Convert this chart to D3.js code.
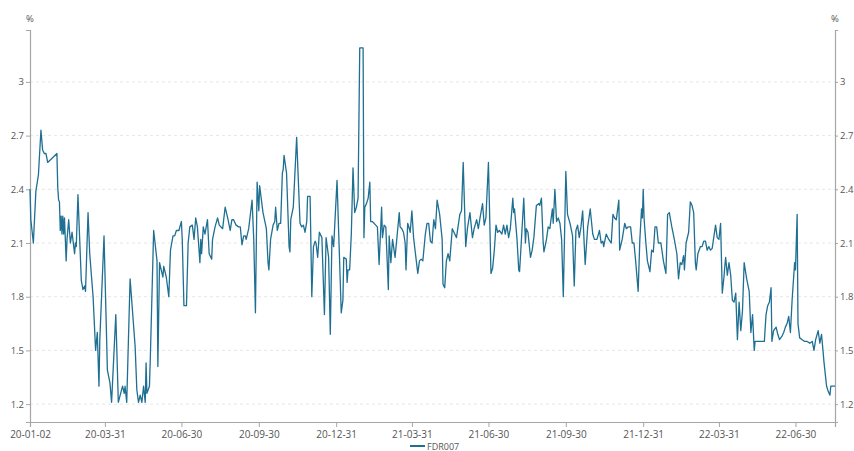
<!DOCTYPE html>
<html>
<head>
<meta charset="utf-8">
<script src="https://cdn.jsdelivr.net/npm/d3@7"></script>
<style>
html,body{margin:0;padding:0;background:#fff;}
svg{display:block;font-family:"Open Sans","Noto Sans",sans-serif;}
</style>
</head>
<body>
<svg id="chart" width="854" height="451"></svg>
<script>
const seriesName = "FDR007";
const unitLabel = "%";
const yTicks = [1.2, 1.5, 1.8, 2.1, 2.4, 2.7, 3];
const xTickDates = ["2020-01-02","2020-03-31","2020-06-30","2020-09-30","2020-12-31","2021-03-31","2021-06-30","2021-09-30","2021-12-31","2022-03-31","2022-06-30"];
const dates = [
"2020-01-02","2020-01-03","2020-01-06","2020-01-09","2020-01-12","2020-01-15","2020-01-17","2020-01-19","2020-01-21","2020-01-23",
"2020-02-03","2020-02-04","2020-02-05","2020-02-06","2020-02-07","2020-02-08","2020-02-09","2020-02-10","2020-02-11","2020-02-12",
"2020-02-14","2020-02-15","2020-02-17","2020-02-19","2020-02-21","2020-02-24","2020-02-25","2020-02-26","2020-02-28","2020-03-03",
"2020-03-05","2020-03-07","2020-03-08","2020-03-11","2020-03-13","2020-03-17","2020-03-20","2020-03-22","2020-03-24","2020-03-25",
"2020-03-30","2020-04-03","2020-04-06","2020-04-08","2020-04-13","2020-04-16","2020-04-21","2020-04-23","2020-04-24","2020-04-26",
"2020-04-30","2020-05-06","2020-05-08","2020-05-10","2020-05-12","2020-05-14","2020-05-16","2020-05-18","2020-05-19","2020-05-20",
"2020-05-23","2020-05-24","2020-05-28","2020-06-01","2020-06-02","2020-06-04","2020-06-05","2020-06-08","2020-06-09","2020-06-12",
"2020-06-15","2020-06-17","2020-06-20","2020-06-22","2020-06-24","2020-06-27","2020-06-30","2020-07-01","2020-07-03","2020-07-06",
"2020-07-08","2020-07-10","2020-07-13","2020-07-15","2020-07-17","2020-07-19","2020-07-22","2020-07-23","2020-07-24","2020-07-26",
"2020-07-28","2020-07-31","2020-08-02","2020-08-05","2020-08-06","2020-08-09","2020-08-12","2020-08-14","2020-08-18","2020-08-21",
"2020-08-24","2020-08-27","2020-08-29","2020-08-31","2020-09-03","2020-09-06","2020-09-08","2020-09-10","2020-09-12","2020-09-14",
"2020-09-15","2020-09-18","2020-09-22","2020-09-24","2020-09-26","2020-09-28","2020-09-30","2020-10-01","2020-10-05","2020-10-09",
"2020-10-11","2020-10-12","2020-10-14","2020-10-17","2020-10-19","2020-10-20","2020-10-22","2020-10-24","2020-10-26","2020-10-28",
"2020-10-29","2020-10-30","2020-11-02","2020-11-05","2020-11-06","2020-11-07","2020-11-10","2020-11-14","2020-11-18","2020-11-20",
"2020-11-22","2020-11-24","2020-11-26","2020-11-27","2020-11-30","2020-12-02","2020-12-04","2020-12-06","2020-12-07","2020-12-09",
"2020-12-11","2020-12-14","2020-12-17","2020-12-19","2020-12-22","2020-12-24","2020-12-26","2020-12-28","2021-01-01","2021-01-05",
"2021-01-06","2021-01-08","2021-01-09","2021-01-12","2021-01-13","2021-01-14","2021-01-16","2021-01-18","2021-01-20","2021-01-22",
"2021-01-24","2021-01-26","2021-01-28","2021-02-01","2021-02-02","2021-02-03","2021-02-05","2021-02-07","2021-02-09","2021-02-10",
"2021-02-12","2021-02-16","2021-02-18","2021-02-20","2021-02-22","2021-02-23","2021-02-24","2021-02-26","2021-02-28","2021-03-03",
"2021-03-04","2021-03-06","2021-03-08","2021-03-11","2021-03-14","2021-03-16","2021-03-17","2021-03-19","2021-03-21","2021-03-23",
"2021-03-24","2021-03-26","2021-03-28","2021-03-29","2021-03-31","2021-04-02","2021-04-04","2021-04-07","2021-04-09","2021-04-11",
"2021-04-13","2021-04-16","2021-04-18","2021-04-20","2021-04-22","2021-04-24","2021-04-26","2021-04-28","2021-04-30","2021-05-03",
"2021-05-06","2021-05-07","2021-05-09","2021-05-11","2021-05-13","2021-05-15","2021-05-18","2021-05-20","2021-05-23","2021-05-27",
"2021-05-29","2021-05-31","2021-06-03","2021-06-05","2021-06-08","2021-06-11","2021-06-13","2021-06-16","2021-06-18","2021-06-20",
"2021-06-23","2021-06-25","2021-06-27","2021-06-30","2021-07-03","2021-07-05","2021-07-07","2021-07-09","2021-07-11","2021-07-13",
"2021-07-16","2021-07-18","2021-07-20","2021-07-22","2021-07-24","2021-07-26","2021-07-29","2021-07-30","2021-07-31","2021-08-03",
"2021-08-05","2021-08-06","2021-08-08","2021-08-11","2021-08-13","2021-08-14","2021-08-16","2021-08-19","2021-08-21","2021-08-23",
"2021-08-26","2021-08-29","2021-08-30","2021-09-01","2021-09-03","2021-09-04","2021-09-07","2021-09-09","2021-09-11","2021-09-14",
"2021-09-15","2021-09-17","2021-09-19","2021-09-21","2021-09-23","2021-09-25","2021-09-27","2021-09-30","2021-10-02","2021-10-05",
"2021-10-08","2021-10-10","2021-10-12","2021-10-14","2021-10-16","2021-10-18","2021-10-20","2021-10-22","2021-10-23","2021-10-26",
"2021-10-29","2021-11-01","2021-11-03","2021-11-06","2021-11-09","2021-11-11","2021-11-13","2021-11-14","2021-11-17","2021-11-20",
"2021-11-23","2021-11-25","2021-11-27","2021-11-29","2021-12-02","2021-12-03","2021-12-06","2021-12-09","2021-12-11","2021-12-13",
"2021-12-16","2021-12-18","2021-12-20","2021-12-22","2021-12-25","2021-12-27","2021-12-29","2021-12-30","2021-12-31","2022-01-01",
"2022-01-03","2022-01-05","2022-01-08","2022-01-10","2022-01-12","2022-01-14","2022-01-16","2022-01-18","2022-01-21","2022-01-24",
"2022-01-27","2022-01-29","2022-01-31","2022-02-03","2022-02-06","2022-02-09","2022-02-11","2022-02-13","2022-02-15","2022-02-17",
"2022-02-18","2022-02-20","2022-02-23","2022-02-25","2022-02-27","2022-03-01","2022-03-03","2022-03-04","2022-03-06","2022-03-09",
"2022-03-11","2022-03-13","2022-03-15","2022-03-17","2022-03-19","2022-03-21","2022-03-23","2022-03-27","2022-03-29","2022-03-31",
"2022-04-02","2022-04-04","2022-04-06","2022-04-07","2022-04-08","2022-04-10","2022-04-12","2022-04-14","2022-04-16","2022-04-18",
"2022-04-20","2022-04-22","2022-04-24","2022-04-26","2022-04-28","2022-04-30","2022-05-03","2022-05-06","2022-05-08","2022-05-10",
"2022-05-12","2022-05-13","2022-05-18","2022-05-24","2022-05-26","2022-05-28","2022-05-30","2022-06-01","2022-06-02","2022-06-04",
"2022-06-07","2022-06-09","2022-06-11","2022-06-14","2022-06-16","2022-06-18","2022-06-20","2022-06-22","2022-06-24","2022-06-26",
"2022-06-29","2022-06-30","2022-07-02","2022-07-03","2022-07-05","2022-07-08","2022-07-11","2022-07-14","2022-07-17","2022-07-20",
"2022-07-22","2022-07-24","2022-07-27","2022-07-29","2022-07-31","2022-08-03","2022-08-06","2022-08-08","2022-08-10","2022-08-11",
"2022-08-16"
];
const values = [
2.40,2.23,2.10,2.39,2.48,2.73,2.62,2.60,2.60,2.55,
2.60,2.41,2.34,2.33,2.17,2.25,2.15,2.25,2.15,2.24,
2.00,2.12,2.23,2.10,2.16,2.04,2.10,2.08,2.37,1.89,
1.84,1.86,1.83,2.27,2.04,1.80,1.50,1.60,1.30,1.56,
2.14,1.39,1.32,1.21,1.70,1.21,1.30,1.26,1.30,1.21,
1.90,1.52,1.28,1.21,1.25,1.21,1.30,1.21,1.43,1.26,
1.30,1.45,2.17,2.00,1.41,1.99,1.97,1.91,1.97,1.91,
1.80,2.06,2.14,2.14,2.17,2.17,2.22,2.12,1.75,1.75,
2.10,2.19,2.20,2.12,2.24,2.19,1.99,2.12,2.04,2.19,
2.15,2.23,2.04,2.01,2.12,2.19,2.24,2.20,2.18,2.30,
2.24,2.17,2.23,2.23,2.20,2.19,2.19,2.09,2.14,2.14,
2.12,2.18,2.34,2.12,1.71,2.44,2.28,2.42,2.27,2.18,
1.99,1.95,2.12,2.20,2.22,2.30,2.17,2.21,2.21,2.49,
2.51,2.59,2.49,2.08,2.05,2.23,2.30,2.69,2.21,2.19,
2.20,2.16,2.22,2.36,2.36,1.80,2.08,2.11,2.10,2.02,
2.16,2.13,1.70,2.13,2.02,1.59,2.14,2.08,2.45,1.86,
1.71,1.78,2.02,2.01,1.88,1.95,1.95,2.15,2.52,2.27,
2.30,2.35,3.19,3.19,2.13,2.30,2.32,2.35,2.44,2.22,
2.22,2.20,2.19,1.98,2.19,2.30,2.13,2.20,2.19,1.84,
2.14,1.99,2.12,2.02,2.17,2.27,2.19,2.18,2.16,2.10,
1.95,2.21,2.18,2.16,2.28,2.13,2.05,1.93,2.00,2.01,
2.00,2.15,2.21,2.21,2.11,2.10,2.23,2.18,2.34,2.26,
2.12,1.87,1.85,2.00,2.04,2.00,2.18,2.16,2.13,2.26,
2.28,2.55,2.08,2.18,2.27,2.13,2.18,2.23,2.18,2.24,
2.32,2.20,2.24,2.55,1.93,1.96,2.06,2.20,2.16,2.17,
2.15,2.20,2.15,2.20,2.13,2.18,2.35,2.27,2.29,2.12,
1.95,1.94,2.10,2.35,2.10,2.18,2.16,2.02,2.06,2.13,
2.31,2.32,2.31,2.35,2.11,2.05,2.12,2.19,2.18,2.29,
2.21,2.40,2.22,2.24,2.21,2.12,1.80,2.50,2.26,2.21,
2.14,1.86,2.17,2.20,2.13,2.19,2.28,2.08,1.98,2.19,
2.29,2.15,2.12,2.12,2.17,2.10,2.11,2.08,2.15,2.12,
2.10,2.26,2.24,2.23,2.34,2.06,2.12,2.21,2.18,2.19,
2.19,2.10,2.10,2.00,1.83,2.12,2.29,2.24,2.40,2.24,
2.11,2.00,1.94,2.06,2.05,2.19,2.19,2.10,2.10,2.00,
1.93,2.26,2.27,2.19,2.12,2.04,1.90,1.99,1.98,2.03,
1.95,2.10,2.16,2.33,2.31,2.27,1.99,1.95,2.04,2.08,
2.08,2.11,2.11,2.06,2.08,2.06,2.07,2.20,2.13,2.12,
2.21,1.82,1.91,1.97,2.02,1.92,1.99,1.92,1.78,1.77,
1.82,1.56,1.77,1.61,1.72,1.99,1.90,1.83,1.60,1.70,
1.50,1.55,1.55,1.55,1.70,1.75,1.77,1.85,1.55,1.61,
1.63,1.59,1.56,1.58,1.60,1.63,1.65,1.69,1.60,1.78,
1.99,1.95,2.26,1.65,1.57,1.56,1.55,1.55,1.54,1.55,
1.50,1.56,1.61,1.54,1.59,1.43,1.30,1.27,1.25,1.30,
1.30
];

const parse = d3.timeParse("%Y-%m-%d");
const data = dates.map((d, i) => ({date: parse(d), value: values[i]}));

const svg = d3.select("#chart");
const mLeft = 30, mRight = 835, mTop = 30, mBottom = 422;

const x = d3.scaleTime()
  .domain(d3.extent(data, d => d.date))
  .range([mLeft, mRight]);
const y = d3.scaleLinear()
  .domain([1.1, 3.29])
  .range([mBottom, mTop]);

const axisColor = "#a6a6a6";
const textColor = "#555";
const fontStack = "'Open Sans','Noto Sans',sans-serif";

svg.append("g")
  .selectAll("line")
  .data(yTicks)
  .join("line")
  .attr("x1", mLeft).attr("x2", mRight)
  .attr("y1", d => y(d)).attr("y2", d => y(d))
  .attr("stroke", "#e6e6e6")
  .attr("stroke-width", 1)
  .attr("stroke-dasharray", "3,3");

const yAxisL = svg.append("g")
  .attr("transform", `translate(${mLeft},0)`)
  .call(d3.axisLeft(y).tickValues(yTicks).tickSize(4).tickPadding(2).tickFormat(d3.format("~g")));
const yAxisR = svg.append("g")
  .attr("transform", `translate(${mRight},0)`)
  .call(d3.axisRight(y).tickValues(yTicks).tickSize(3).tickPadding(2).tickFormat(d3.format("~g")));
const xAxis = svg.append("g")
  .attr("transform", `translate(0,${mBottom})`)
  .call(d3.axisBottom(x).tickValues(xTickDates.map(parse)).tickSize(5).tickPadding(4).tickFormat(d3.timeFormat("%y-%m-%d")));

[yAxisL, yAxisR, xAxis].forEach(g => {
  g.select(".domain").attr("stroke", axisColor).attr("stroke-width", 1.2);
  g.selectAll(".tick line").attr("stroke", axisColor);
  g.selectAll(".tick text").attr("fill", textColor).style("font-size", "9.5px")
    .style("font-family", fontStack);
});
xAxis.selectAll(".tick text").style("font-size", "10px");

svg.append("text").attr("x", mLeft).attr("y", 22).attr("text-anchor", "middle")
  .attr("fill", textColor).style("font-size", "9.5px").text(unitLabel);
svg.append("text").attr("x", mRight).attr("y", 22).attr("text-anchor", "middle")
  .attr("fill", textColor).style("font-size", "9.5px").text(unitLabel);

const line = d3.line().x(d => x(d.date)).y(d => y(d.value));
svg.append("path")
  .datum(data)
  .attr("d", line)
  .attr("fill", "none")
  .attr("stroke", "#1f6f92")
  .attr("stroke-width", 1.3)
  .attr("stroke-linejoin", "round");

const lg = svg.append("g").attr("transform", "translate(410,446)");
lg.append("line").attr("x1", 0).attr("x2", 15).attr("y1", 0).attr("y2", 0)
  .attr("stroke", "#1f6f92").attr("stroke-width", 2);
lg.append("text").attr("x", 17).attr("y", 3.5).attr("fill", textColor)
  .style("font-size", "9px").text(seriesName);
</script>
</body>
</html>
